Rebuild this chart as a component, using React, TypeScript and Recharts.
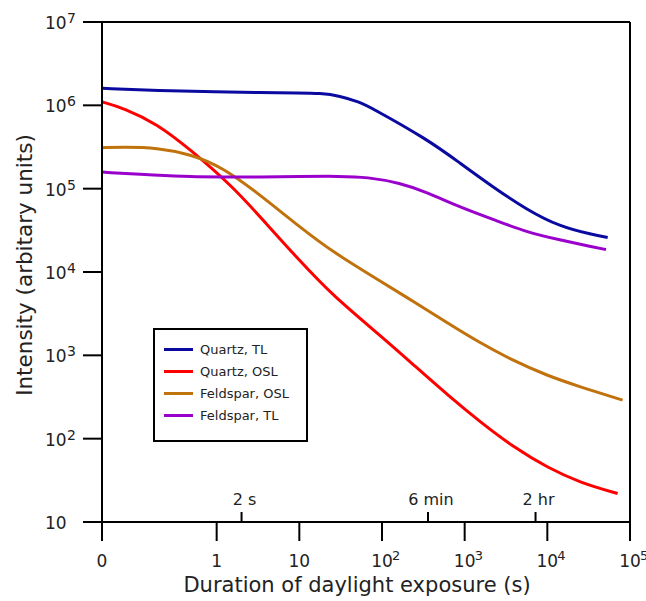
import { LineChart, Line, XAxis, YAxis, Legend, ReferenceLine } from 'recharts'

const FONT = '"DejaVu Sans", Verdana, sans-serif'
const INK = '#222'

// x positions are decades of seconds (log10 s); 0 s is drawn left of 1 s
const ZERO_POS = -1.387
const xTickPos = [ZERO_POS, 0, 1, 2, 3, 4, 5]
const xTickBase = ['0', '1', '10', '10', '10', '10', '10']
const xTickExp = ['', '', '', '2', '3', '4', '5']
const yTicks = [10, 1e2, 1e3, 1e4, 1e5, 1e6, 1e7]

const timeMarkSec = [2, 360, 7200]
const timeMarkLabels = ['2 s', '6 min', '2 hr']
const timeMarkPos = timeMarkSec.map((s) => Math.log10(s))

const quartzTLPos = [-1.387, -0.69, 0, 0.52, 1.0, 1.25, 1.49, 1.73, 1.85, 2.55, 2.94, 3.34, 3.75, 4.15, 4.55, 4.73]
const quartzTL = [1.6e6, 1.5e6, 1.45e6, 1.42e6, 1.41e6, 1.4e6, 1.3e6, 1.09e6, 9.6e5, 3.9e5, 2.04e5, 1.05e5, 5.6e4, 3.5e4, 2.8e4, 2.6e4]

const quartzOSLPos = [-1.387, -1.13, -0.72, -0.32, 0.2, 0.6, 1.0, 1.4, 2.0, 2.4, 2.8, 3.2, 3.6, 4.0, 4.4, 4.85]
const quartzOSL = [1.1e6, 9.3e5, 6.0e5, 2.95e5, 1.05e5, 3.8e4, 1.38e4, 5.25e3, 1660, 740, 330, 155, 78, 45, 29.5, 22]

const feldsparOSLPos = [-1.387, -1.13, -0.72, -0.32, 0.076, 0.52, 1.0, 1.41, 1.976, 2.37, 2.79, 3.18, 3.58, 3.99, 4.39, 4.91]
const feldsparOSL = [3.1e5, 3.15e5, 3.1e5, 2.6e5, 1.8e5, 8.5e4, 3.5e4, 1.72e4, 7.8e3, 4.5e3, 2.45e3, 1420, 870, 575, 420, 290]

const feldsparTLPos = [-1.387, -0.72, -0.32, 0.076, 0.52, 1.0, 1.49, 1.82, 2.22, 2.54, 2.94, 3.34, 3.75, 4.15, 4.55, 4.71]
const feldsparTL = [1.58e5, 1.45e5, 1.39e5, 1.38e5, 1.38e5, 1.4e5, 1.41e5, 1.38e5, 1.17e5, 9.1e4, 6.0e4, 4.3e4, 3.0e4, 2.43e4, 2.0e4, 1.86e4]

const toPoints = (pos: number[], vals: number[]) => pos.map((x, i) => ({ x, y: vals[i] }))

const series = [
  { name: 'Quartz, TL', color: '#0a0aa0', data: toPoints(quartzTLPos, quartzTL) },
  { name: 'Quartz, OSL', color: '#ff0000', data: toPoints(quartzOSLPos, quartzOSL) },
  { name: 'Feldspar, OSL', color: '#c0720c', data: toPoints(feldsparOSLPos, feldsparOSL) },
  { name: 'Feldspar, TL', color: '#9a00cc', data: toPoints(feldsparTLPos, feldsparTL) },
]

function XTick({ x, y, payload }: any) {
  const i = xTickPos.indexOf(payload.value)
  return (
    <g fontFamily={FONT} fill={INK}>
      <text x={x} y={y + 24} textAnchor="middle" fontSize={17}>{xTickBase[i]}</text>
      {xTickExp[i] && <text x={x + 10} y={y + 17} fontSize={13}>{xTickExp[i]}</text>}
    </g>
  )
}

function YTick({ x, y, payload }: any) {
  const exp = Math.round(Math.log10(payload.value))
  return (
    <g fontFamily={FONT} fill={INK}>
      <text x={x - 36} y={y + 7} fontSize={17}>10</text>
      {exp > 1 && <text x={x - 14} y={y + 1} fontSize={14}>{exp}</text>}
    </g>
  )
}

function MarkTick({ x, y, payload }: any) {
  const i = timeMarkPos.indexOf(payload.value)
  return (
    <text x={x + 3} y={y - 5} textAnchor="middle" fontSize={16} fontFamily={FONT} fill={INK}>
      {timeMarkLabels[i]}
    </text>
  )
}

function LegendBox({ payload }: any) {
  return (
    <div
      style={{
        width: 155,
        height: 114,
        border: '2px solid #000',
        boxSizing: 'border-box',
        paddingTop: 8,
        paddingLeft: 9,
        fontFamily: FONT,
        fontSize: 13,
        color: INK,
        background: '#fff',
      }}
    >
      {(payload || []).map((p: any) => (
        <div key={p.value} style={{ display: 'flex', alignItems: 'center', height: 22 }}>
          <span style={{ width: 29, height: 3, background: p.color, marginRight: 7 }} />
          <span>{p.value}</span>
        </div>
      ))}
    </div>
  )
}

const legendOrder = (item: any) => series.findIndex((s) => s.name === item.value)

export default function App() {
  return (
    <div style={{ position: 'absolute', left: 0, top: 0, background: '#fff' }}>
      <LineChart width={646} height={601} margin={{ top: 22, right: 16, left: 0, bottom: 0 }}>
        <XAxis
          xAxisId="main"
          type="number"
          dataKey="x"
          domain={[ZERO_POS, 5]}
          ticks={xTickPos}
          interval={0}
          allowDataOverflow
          height={79}
          tickSize={19}
          tick={<XTick />}
          tickLine={{ stroke: '#000', strokeWidth: 2 }}
          axisLine={{ stroke: '#000', strokeWidth: 2 }}
          label={{
            content: (p: any) => (
              <text
                x={p.viewBox.x + p.viewBox.width / 2 - 9}
                y={592}
                textAnchor="middle"
                fontSize={21}
                fontFamily={FONT}
                fill={INK}
              >
                Duration of daylight exposure (s)
              </text>
            ),
          }}
        />
        <XAxis
          xAxisId="marks"
          type="number"
          dataKey="x"
          domain={[ZERO_POS, 5]}
          ticks={timeMarkPos}
          interval={0}
          allowDataOverflow
          mirror
          tickSize={10}
          axisLine={false}
          tick={<MarkTick />}
          tickLine={{ stroke: '#000', strokeWidth: 2 }}
        />
        <YAxis
          type="number"
          scale="log"
          domain={[10, 1e7]}
          ticks={yTicks}
          interval={0}
          allowDataOverflow
          width={102}
          tickSize={19}
          tick={<YTick />}
          tickLine={{ stroke: '#000', strokeWidth: 2 }}
          axisLine={{ stroke: '#000', strokeWidth: 2 }}
          label={{
            content: (p: any) => {
              const cx = 24
              const cy = p.viewBox.y + 243
              return (
                <text
                  x={cx}
                  y={cy}
                  transform={`rotate(-90, ${cx}, ${cy})`}
                  textAnchor="middle"
                  dominantBaseline="central"
                  fontSize={21.5}
                  fontFamily={FONT}
                  fill={INK}
                >
                  Intensity (arbitary units)
                </text>
              )
            },
          }}
        />
        <ReferenceLine xAxisId="main" y={1e7} stroke="#000" strokeWidth={2} />
        <ReferenceLine xAxisId="main" x={5} stroke="#000" strokeWidth={2} />
        {series.map((s) => (
          <Line
            key={s.name}
            xAxisId="main"
            data={s.data}
            dataKey="y"
            name={s.name}
            type="basis"
            stroke={s.color}
            strokeWidth={3}
            dot={false}
            isAnimationActive={false}
          />
        ))}
        <Legend
          layout="vertical"
          align="center"
          verticalAlign="middle"
          itemSorter={legendOrder}
          wrapperStyle={{ left: 153, top: 328, width: 'auto' }}
          content={<LegendBox />}
        />
      </LineChart>
    </div>
  )
}
